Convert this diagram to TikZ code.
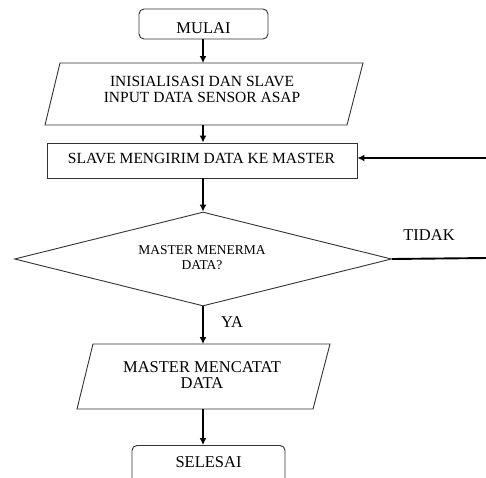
\documentclass[tikz,border=0pt]{standalone}
\usepackage{fontspec}
\setmainfont{Liberation Serif}
\usetikzlibrary{arrows.meta,shapes.geometric}
\begin{document}
\begin{tikzpicture}[x=1pt,y=-1pt,
  shapeline/.style={draw=black!80, line width=0.9pt},
  flow/.style={line width=1.9pt, -{Latex[length=7pt,width=7pt]}},
  plainline/.style={line width=1.9pt},
  txt/.style={inner sep=0pt, align=center},
  big/.style={font=\fontsize{16.5}{16.5}\selectfont},
  mid/.style={font=\fontsize{15.5}{16}\selectfont},
  small/.style={font=\fontsize{13.5}{15.5}\selectfont}]
\useasboundingbox (0,0) rectangle (486,477);

% MULAI
\node[shapeline, rounded corners=5pt, minimum width=129pt, minimum height=30pt] (mulai) at (203.5,24) {};
\node[txt, big] (mulaitxt) at (203.5,28) {MULAI};

% parallelogram 1
\draw[shapeline] (60,63) -- (363,63) -- (347,125) -- (45,125) -- cycle;
\coordinate (initN) at (203,63);
\coordinate (initS) at (203,125);
\node[txt, mid] (init) at (202,89.5) {INISIALISASI DAN SLAVE\\INPUT DATA SENSOR ASAP};

% slave box
\node[shapeline, minimum width=310pt, minimum height=35pt] (slave) at (202,160.5) {};
\node[txt, mid] (slavetxt) at (201.5,158) {SLAVE MENGIRIM DATA KE MASTER};

% decision
\node[diamond, shapeline, minimum width=377pt, minimum height=94pt, inner sep=0pt] (dec) at (203,259) {};
\node[txt, small] (dectxt) at (202,257.5) {MASTER MENERMA\\DATA?};

% parallelogram 2
\draw[shapeline] (93,344) -- (330,344) -- (313,409) -- (77,409) -- cycle;
\coordinate (catatN) at (203,344);
\coordinate (catatS) at (203,409);
\node[txt, big] (catat) at (202,375) {MASTER MENCATAT\\DATA};

% SELESAI
\node[shapeline, rounded corners=5pt, minimum width=153pt, minimum height=44pt, anchor=north] (selesai) at (208.5,445) {};
\node[txt, big] (selesaitxt) at (208.5,462) {SELESAI};

% loop ends
\coordinate (loopIn) at (486,158);
\coordinate (loopOut) at (486,258);

% connectors
\draw[flow] (mulai.south -| initN) -- (initN);
\draw[flow] (initS) -- (slave.north -| initS);
\draw[flow] (slave.south -| initS) -- (dec.north);
\draw[flow] (dec.south) -- (catatN);
\draw[flow] (catatS) -- (selesai.north -| catatS);
\draw[plainline] (dec.east) -- (loopOut);
\draw[flow] (loopIn) -- (slave.east |- loopIn);

% labels
\node[txt, big] (tidak) at (429,235.5) {TIDAK};
\node[txt, big] (ya) at (232,322.5) {YA};
\end{tikzpicture}
\end{document}
